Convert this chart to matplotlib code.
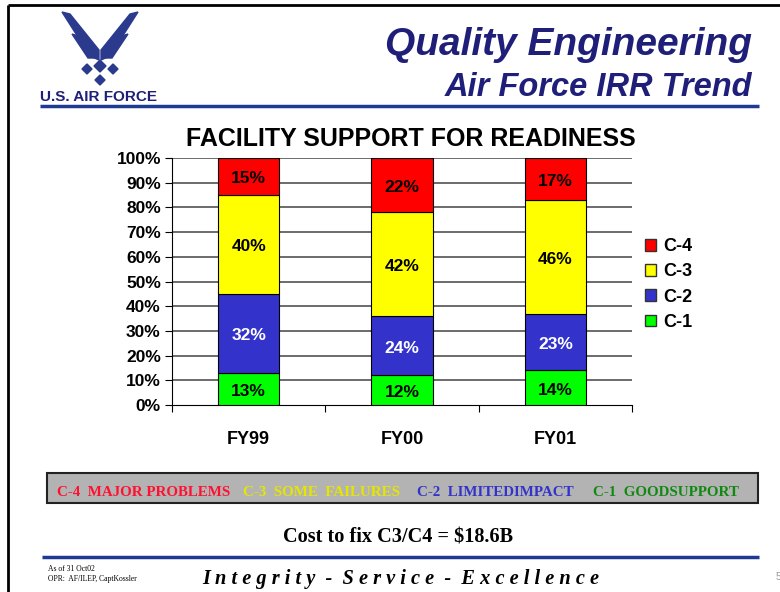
import matplotlib.pyplot as plt
from matplotlib.patches import Patch, Rectangle, Polygon
import numpy as np

plt.rcParams['font.family'] = ['Liberation Sans', 'DejaVu Sans']

# Data
years = ['FY99', 'FY00', 'FY01']
c1 = [13, 12, 14]
c2 = [32, 24, 23]
c3 = [40, 42, 46]
c4 = [15, 22, 17]
series = [('C-1', c1, '#00ff00', 'black'),
          ('C-2', c2, '#3333cc', 'white'),
          ('C-3', c3, '#ffff00', 'black'),
          ('C-4', c4, '#ff0000', 'black')]
yticks = [0, 10, 20, 30, 40, 50, 60, 70, 80, 90, 100]

status_text = [('C-4  MAJOR PROBLEMS', '#ff1030', 57),
               ('C-3  SOME  FAILURES', '#e6e600', 243),
               ('C-2  LIMITEDIMPACT', '#3333cc', 417),
               ('C-1  GOODSUPPORT', '#118811', 593)]

NAVY = '#1f1f7a'
LINE_BLUE = '#1f3a93'

W, H = 780, 592
fig = plt.figure(figsize=(W / 100, H / 100), dpi=100)

# background layer in pixel coordinates for the slide decorations
bg = fig.add_axes([0, 0, 1, 1])
bg.set_xlim(0, W)
bg.set_ylim(H, 0)
bg.axis('off')

# slide frame
bg.plot([8, W], [5, 5], color='black', lw=2, solid_capstyle='butt')
bg.plot([8, 8], [5, H], color='black', lw=2, solid_capstyle='butt')

# rough air force symbol
wing_a = [(62, 12), (70, 14), (99, 50), (99, 60), (90, 56)]
wing_b = [(72, 34), (78, 36), (96, 58), (88, 58)]
for poly in (wing_a, wing_b):
    bg.add_patch(Polygon(poly, closed=True, color='#2b3a8c'))
    bg.add_patch(Polygon([(200 - px, py) for px, py in poly], closed=True, color='#2b3a8c'))
for cx, cy, r in [(100, 66, 6), (87, 69, 5), (113, 69, 5), (100, 80, 5)]:
    bg.add_patch(Polygon([(cx, cy - r), (cx + r, cy), (cx, cy + r), (cx - r, cy)],
                         closed=True, color='#2b3a8c'))
bg.text(40, 101, 'U.S. AIR FORCE', fontsize=11, fontweight='bold', color=NAVY,
        ha='left', va='baseline')

# header
bg.text(752, 55, 'Quality Engineering', fontsize=28, fontweight='bold',
        fontstyle='italic', color=NAVY, ha='right', va='baseline')
bg.text(752, 96, 'Air Force IRR Trend', fontsize=23.5, fontweight='bold',
        fontstyle='italic', color=NAVY, ha='right', va='baseline')
bg.plot([40, 759], [106, 106], color=LINE_BLUE, lw=2.5, solid_capstyle='butt')

# chart title
bg.text(411, 139, 'FACILITY SUPPORT FOR READINESS', fontsize=18,
        fontweight='bold', ha='center', va='center')

# status legend box
bg.add_patch(Rectangle((47, 473), 711, 30, facecolor='#b3b3b3',
                       edgecolor='#222222', lw=1.5))
for txt, col, x0 in status_text:
    bg.text(x0, 492, txt, fontsize=10.8, fontweight='bold', color=col,
            family='Liberation Serif', ha='left', va='center')

bg.text(398, 537, 'Cost to fix C3/C4 = $18.6B', fontsize=14.6, fontweight='bold',
        family='Liberation Serif', ha='center', va='center')

# footer
bg.plot([42, 759], [557, 557], color=LINE_BLUE, lw=2.5, solid_capstyle='butt')
bg.text(48, 569, 'As of 31 Oct02', fontsize=5.5, family='Liberation Serif',
        ha='left', va='center')
bg.text(48, 579, 'OPR:  AF/ILEP, CaptKossler', fontsize=5.5, family='Liberation Serif',
        ha='left', va='center')
bg.text(202, 579, 'I n t e g r i t y  -  S e r v i c e  -  E x c e l l e n c e',
        fontsize=14.7, fontweight='bold', fontstyle='italic',
        family='Liberation Serif', ha='left', va='center')
bg.text(776, 577, '5', fontsize=7, color='#999999', ha='left', va='center')

# the chart itself
ax = fig.add_axes([172 / W, 1 - 405 / H, 460 / W, 247 / H])
x = np.arange(len(years))
bottom = np.zeros(len(years))
for name, vals, col, tcol in series:
    ax.bar(x, vals, width=0.4, bottom=bottom, color=col, edgecolor='black',
           linewidth=0.8, zorder=3, label=name)
    for xi, b, v in zip(x, bottom, vals):
        ax.text(xi, b + v / 2 - 1, f'{v}%', ha='center', va='center', fontsize=12.5,
                fontweight='bold', color=tcol, zorder=4)
    bottom += vals

ax.set_xlim(-0.5, len(years) - 0.5)
ax.set_ylim(0, 100)
ax.set_yticks(yticks)
ax.set_yticklabels([f'{t}%' for t in yticks], fontsize=12.5, fontweight='bold')
for t in yticks[1:]:
    ax.axhline(t, color='#444444', lw=1.1, zorder=1)
ax.set_xticks([-0.5, 0.5, 1.5, 2.5])
ax.set_xticklabels([])
ax.set_xticks(x, minor=True)
ax.set_xticklabels(years, minor=True, fontsize=13, fontweight='bold')
ax.tick_params(axis='x', which='minor', length=0, pad=19)
ax.tick_params(axis='x', which='major', length=5, direction='out')
ax.tick_params(axis='y', length=5, direction='out', pad=3)
for s in ('top', 'right'):
    ax.spines[s].set_visible(False)
ax.set_facecolor('none')

handles = [Patch(facecolor=c, edgecolor='#333333', label=n) for n, _, c, _ in series[::-1]]
fig.legend(handles=handles, loc='upper left', bbox_to_anchor=(629 / W, 1 - 222 / H),
           frameon=False, prop={'weight': 'bold', 'size': 13},
           handlelength=0.6, handleheight=0.6, handletextpad=0.4, labelspacing=0.45)

fig.savefig('out.png', dpi=100)
